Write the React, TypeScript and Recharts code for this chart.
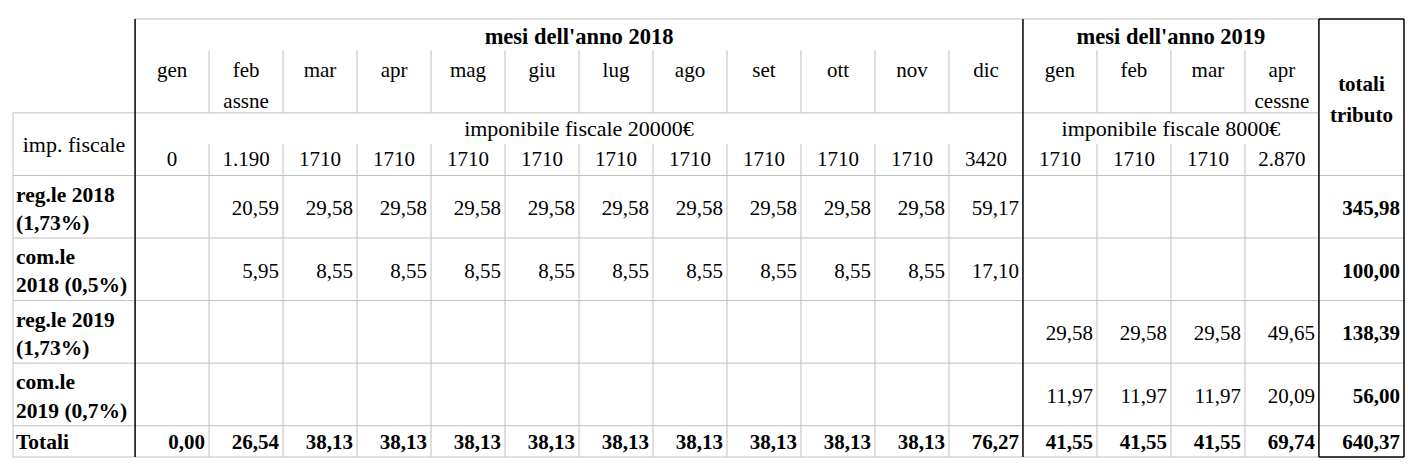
import React from 'react';
import { ScatterChart, Scatter, XAxis, YAxis, ReferenceLine } from 'recharts';

// header texts
const yearTitles = ["mesi dell'anno 2018", "mesi dell'anno 2019"];
const months = ['gen', 'feb', 'mar', 'apr', 'mag', 'giu', 'lug', 'ago', 'set', 'ott', 'nov', 'dic', 'gen', 'feb', 'mar', 'apr'];
const monthNotes = ['', 'assne', '', '', '', '', '', '', '', '', '', '', '', '', '', 'cessne'];
const imponibileTitles = ['imponibile fiscale 20000€', 'imponibile fiscale 8000€'];
const imponibile = ['0', '1.190', '1710', '1710', '1710', '1710', '1710', '1710', '1710', '1710', '1710', '3420', '1710', '1710', '1710', '2.870'];

// tributo rows
const rowLabels = [
  ['reg.le 2018', '(1,73%)'],
  ['com.le', '2018 (0,5%)'],
  ['reg.le 2019', '(1,73%)'],
  ['com.le', '2019 (0,7%)'],
];
const reg2018 = [null, 20.59, 29.58, 29.58, 29.58, 29.58, 29.58, 29.58, 29.58, 29.58, 29.58, 59.17, null, null, null, null];
const com2018 = [null, 5.95, 8.55, 8.55, 8.55, 8.55, 8.55, 8.55, 8.55, 8.55, 8.55, 17.1, null, null, null, null];
const reg2019 = [null, null, null, null, null, null, null, null, null, null, null, null, 29.58, 29.58, 29.58, 49.65];
const com2019 = [null, null, null, null, null, null, null, null, null, null, null, null, 11.97, 11.97, 11.97, 20.09];
const rowTotals = [345.98, 100.0, 138.39, 56.0];
const columnTotals = [0, 26.54, 38.13, 38.13, 38.13, 38.13, 38.13, 38.13, 38.13, 38.13, 38.13, 76.27, 41.55, 41.55, 41.55, 69.74];
const grandTotal = 640.37;

// layout, in month-column units (x) and half-row units (y)
const LABEL_W = 1.65;
const TOTAL_W = 1.15;
const N = months.length;
const YEAR_SPANS = [[0, 12], [12, 16]];
const ROW_TOP = [5, 7, 9, 11];
const GRAY = '#bfbfbf';
const FONT = '"Liberation Serif", "DejaVu Serif", serif';

const fmt = (v: number) => v.toFixed(2).replace('.', ',');

type Cell = { x: number; y: number; text: string; anchor: 'start' | 'middle' | 'end'; bold?: boolean; size?: number };

const buildCells = (): Cell[] => {
  const cells: Cell[] = [];
  YEAR_SPANS.forEach(([a, b], i) => {
    cells.push({ x: (a + b) / 2, y: 0.55, text: yearTitles[i], anchor: 'middle', bold: true, size: 22.5 });
    cells.push({ x: (a + b) / 2, y: 3.48, text: imponibileTitles[i], anchor: 'middle', size: 22 });
  });
  months.forEach((m, i) => {
    cells.push({ x: i + 0.5, y: 1.63, text: m, anchor: 'middle' });
    if (monthNotes[i]) cells.push({ x: i + 0.5, y: 2.6, text: monthNotes[i], anchor: 'middle' });
    cells.push({ x: i + 0.5, y: 4.47, text: imponibile[i], anchor: 'middle' });
  });
  cells.push({ x: N + TOTAL_W / 2, y: 2.06, text: 'totali', anchor: 'middle', bold: true });
  cells.push({ x: N + TOTAL_W / 2, y: 3.05, text: 'tributo', anchor: 'middle', bold: true });
  cells.push({ x: -LABEL_W / 2, y: 4.02, text: 'imp. fiscale', anchor: 'middle', size: 22 });

  [reg2018, com2018, reg2019, com2019].forEach((series, r) => {
    const top = ROW_TOP[r];
    cells.push({ x: -LABEL_W, y: top + 0.6, text: rowLabels[r][0], anchor: 'start', bold: true, size: 21.5 });
    cells.push({ x: -LABEL_W, y: top + 1.5, text: rowLabels[r][1], anchor: 'start', bold: true, size: 21.5 });
    series.forEach((v, i) => {
      if (v !== null) cells.push({ x: i + 1, y: top + 1.03, text: fmt(v), anchor: 'end' });
    });
    cells.push({ x: N + TOTAL_W, y: top + 1.03, text: fmt(rowTotals[r]), anchor: 'end', bold: true });
  });

  cells.push({ x: -LABEL_W, y: 13.5, text: 'Totali', anchor: 'start', bold: true, size: 21.5 });
  columnTotals.forEach((v, i) => {
    cells.push({ x: i + 1, y: 13.5, text: fmt(v), anchor: 'end', bold: true });
  });
  cells.push({ x: N + TOTAL_W, y: 13.5, text: fmt(grandTotal), anchor: 'end', bold: true });
  return cells;
};

type Seg = { x1: number; y1: number; x2: number; y2: number; black?: boolean };

const buildLines = (): Seg[] => {
  const segs: Seg[] = [];
  const right = N + TOTAL_W;
  // horizontal
  segs.push({ x1: 0, y1: 0, x2: N, y2: 0 });
  segs.push({ x1: -LABEL_W, y1: 3, x2: N, y2: 3 });
  [5, 7, 9, 11, 13].forEach((y) => segs.push({ x1: -LABEL_W, y1: y, x2: right, y2: y }));
  segs.push({ x1: -LABEL_W, y1: 14, x2: N, y2: 14 });
  // vertical month separators
  for (let i = 1; i < N; i++) {
    if (i === 12) continue;
    segs.push({ x1: i, y1: 1, x2: i, y2: 3 });
    segs.push({ x1: i, y1: 4, x2: i, y2: 14 });
  }
  segs.push({ x1: -LABEL_W, y1: 3, x2: -LABEL_W, y2: 14 });
  // black frame
  [0, 12, N, right].forEach((x) => segs.push({ x1: x, y1: 0, x2: x, y2: 14, black: true }));
  segs.push({ x1: N, y1: 0, x2: right, y2: 0, black: true });
  segs.push({ x1: N, y1: 14, x2: right, y2: 14, black: true });
  return segs;
};

const TextShape = (props: any) => {
  const { cx, cy, payload } = props;
  const dx = payload.anchor === 'end' ? -4 : payload.anchor === 'start' ? 3 : 0;
  return (
    <text
      x={cx + dx}
      y={cy}
      dy="0.35em"
      textAnchor={payload.anchor}
      fontFamily={FONT}
      fontSize={payload.size || 21}
      fontWeight={payload.bold ? 700 : 400}
      fill="#000"
    >
      {payload.text}
    </text>
  );
};

export default function App() {
  const cells = buildCells();
  const lines = buildLines();
  return (
    <div style={{ width: 1404, height: 452, background: '#fff' }}>
      <ScatterChart width={1404} height={452} margin={{ top: 11, right: 8, bottom: 3, left: 5 }}>
        <XAxis type="number" dataKey="x" domain={[-LABEL_W, N + TOTAL_W]} allowDataOverflow hide />
        <YAxis type="number" dataKey="y" domain={[0, 14]} reversed allowDataOverflow hide />
        {lines.map((s, i) => (
          <ReferenceLine
            key={i}
            segment={[{ x: s.x1, y: s.y1 }, { x: s.x2, y: s.y2 }]}
            stroke={s.black ? '#000' : GRAY}
            strokeWidth={s.black ? 1.5 : 1}
            ifOverflow="visible"
          />
        ))}
        <Scatter data={cells} shape={TextShape} isAnimationActive={false} />
      </ScatterChart>
    </div>
  );
}
